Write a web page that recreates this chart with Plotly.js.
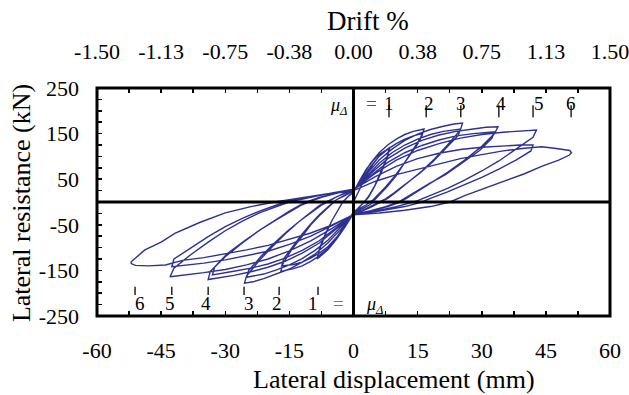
<!DOCTYPE html>
<html><head><meta charset="utf-8">
<script src="https://cdn.plot.ly/plotly-3.0.1.min.js"></script>
<style>html,body{margin:0;padding:0;background:#fff}#chart{width:629px;height:395px}</style>
</head><body><div id="chart"></div>
<script>
// Hysteresis data (displacement mm, force kN), one pair per ductility level
const dispMu1 = [0,1.5,3,4.5,6,7.5,8.5,8,6.5,5,3.5,2.5,1,0,-1.5,-3,-4.5,-6,-7.5,-8.5,-8,-6.5,-5,-3.5,-2.5,-1,0,
  1.5,3,4.5,6,7.5,8.3,7.8,6.3,5,3.5,2.5,1,0,-1.5,-3,-4.5,-6,-7.5,-8.4,-7.9,-6.5,-5,-3.5,-2.5,-1,0];
const forceMu1 = [0,30,58,82,100,113,120,100,65,35,10,0,-15,-22,-45,-68,-88,-105,-118,-125,-105,-70,-40,-15,0,15,22,
  48,72,90,104,113,116,97,63,36,12,0,-14,-24,-46,-67,-86,-102,-114,-120,-100,-68,-40,-15,0,14,22];

const dispMu2 = [0,2,4,6,8,10,12,14,16.5,16,14,12,10,8,6,5,4,2,0,-2,-4,-6,-8,-10,-12,-14,-17,-16.5,-14.5,-12,-10,-8,-6,-5,-4,-2,0,
  2,4,6,8,10,12,14,16,15.5,13.5,11.5,9.5,7.5,5.5,4.5,3,1.5,0,-2,-4,-6,-8,-10,-12,-14,-16.8,-16.3,-14.3,-12,-10,-8,-6,-5,-4,-2,0];
const forceMu2 = [22,55,85,108,125,138,148,155,160,145,115,85,58,35,15,3,-5,-15,-25,-55,-82,-103,-118,-130,-140,-146,-152,-135,-105,-75,-50,-30,-12,-3,5,15,25,
  50,78,100,116,128,138,145,150,134,106,80,55,33,14,4,-6,-14,-24,-52,-78,-98,-112,-123,-132,-137,-140,-124,-98,-70,-48,-28,-11,-2,5,14,24];

const dispMu3 = [0,3,6,9,12,15,18,21,23.5,25.5,25,22,19,16,13,10,8,6.5,4,2,0,-3,-6,-9,-12,-15,-18,-21,-23.5,-25.5,-25,-22,-19,-16,-13,-10,-8,-6.5,-4,-2,0,
  3,6,9,12,15,18,21,23,25,24.5,21.5,18.5,15.5,12.5,9.5,7.5,6,4,2,0,-3,-6,-9,-12,-15,-18,-21,-23,-25,-24.5,-21.5,-18.5,-15.5,-12.5,-9.5,-7.5,-6,-4,-2,0];
const forceMu3 = [25,60,92,116,135,149,159,166,171,173,158,125,95,68,44,22,8,0,-12,-20,-27,-60,-90,-114,-132,-147,-158,-168,-175,-178,-162,-128,-98,-70,-45,-22,-8,0,12,20,26,
  55,85,108,125,138,148,155,158,160,146,116,88,63,41,20,7,0,-11,-19,-26,-56,-84,-106,-124,-138,-149,-158,-162,-165,-150,-118,-90,-64,-41,-20,-7,0,11,19,26];

const dispMu4 = [0,4,8,12,16,20,24,28,31,33.8,33,30,26,22,18,15,12.5,11,8,4,0,-4,-8,-12,-16,-20,-24,-28,-31,-34,-33.5,-30,-26,-22,-18,-15,-12.5,-11,-8,-4,0,
  4,8,12,16,20,24,28,31,33,32.4,29.5,25.5,21.5,17.5,14.5,12,10.5,7.5,4,0,-4,-8,-12,-16,-20,-24,-28,-31,-33,-32.5,-29.5,-25.5,-21.5,-17.5,-14.5,-12,-10.5,-7.5,-4,0];
const forceMu4 = [26,62,95,118,135,147,155,160,164,165,150,122,92,65,42,24,10,0,-10,-20,-28,-60,-90,-112,-130,-143,-153,-161,-166,-170,-152,-120,-90,-62,-38,-20,-7,0,10,20,28,
  58,87,108,124,136,145,150,153,154,140,113,86,60,39,22,9,0,-10,-19,-27,-57,-85,-106,-123,-136,-145,-152,-157,-160,-143,-113,-85,-59,-36,-19,-6,0,10,19,28];

const dispMu5 = [0,5,10,15,20,25,30,35,39,42.8,42,38,34,30,26,22,18,15,14,10,5,0,-5,-10,-15,-20,-25,-30,-35,-39,-42.9,-42,-38,-34,-30,-26,-22,-18,-15,-10,-5,0,
  5,10,15,20,25,30,35,39,42,41.5,38,34,30,26,22,18,16,12,6,0,-5,-10,-15,-20,-25,-30,-35,-39,-42.5,-42,-38,-34,-30,-26,-22,-18,-16,-12,-6,0];
const forceMu5 = [28,62,92,113,128,140,148,153,156,158,142,115,90,68,48,30,14,3,0,-10,-20,-28,-58,-85,-107,-125,-138,-148,-155,-160,-164,-145,-115,-88,-63,-42,-24,-10,0,10,20,28,
  55,78,95,107,115,120,123,125,125,112,92,72,54,38,22,8,0,-10,-20,-27,-52,-75,-93,-108,-118,-127,-134,-139,-142,-125,-100,-76,-54,-36,-20,-6,0,8,18,25];

const dispMu6 = [0,5,10,15,20,25,30,35,40,44,47,50.6,51,50.5,48,44,40,35,30,26,22.6,18,12,6,0,-5,-10,-15,-20,-25,-30,-35,-40,-44,-48,-51,-52,-52,-48.8,-45,-41.8,-36,-30,-24,-18.4,-12,-6,0];
const forceMu6 = [25,45,60,72,84,95,104,112,118,121,118,113,108,103,92,78,62,45,28,14,0,-10,-18,-24,-28,-50,-68,-82,-95,-105,-114,-122,-128,-138,-140,-139,-135,-131,-105,-88,-69,-45,-24,-10,0,10,18,24];

// Ductility levels and their displacements
const muLevels = ['1','2','3','4','5','6'];
const muDispPos = [8.3, 17, 25.1, 34, 42, 50.9];
const muDispNeg = [-8.3, -17.4, -25.6, -34, -42.5, -51.1];

// Axis ticks
const dispTicks = [-60,-45,-30,-15,0,15,30,45,60];
const driftTicks = ['-1.50','-1.13','-0.75','-0.38','0.00','0.38','0.75','1.13','1.50'];
const forceTicks = [-250,-150,-50,50,150,250];

const disp = [].concat(dispMu1, dispMu2, dispMu3, dispMu4, dispMu5, dispMu6);
const force = [].concat(forceMu1, forceMu2, forceMu3, forceMu4, forceMu5, forceMu6);

const minorX = []; for (let v = -60; v <= 60; v += 7.5) minorX.push(v);
const minorXText = minorX.map(v => dispTicks.includes(v) ? String(v) : ' ');
const minorY = []; for (let v = -250; v <= 250; v += 25) minorY.push(v);
const minorYText = minorY.map(v => forceTicks.includes(v) ? String(v) : ' ');
const topVals = minorX.map(v => v / 40);
const topText = minorX.map(v => { const i = dispTicks.indexOf(v); return i >= 0 ? driftTicks[i] : ' '; });

const font = '"Liberation Serif", "Times New Roman", serif';
const traces = [
  {x: disp, y: force, type: 'scatter', mode: 'lines', line: {color: '#2E3192', width: 1.4}, hoverinfo: 'skip'},
  {x: [0], y: [0], xaxis: 'x2', yaxis: 'y', mode: 'markers', marker: {opacity: 0}, hoverinfo: 'skip'}
];

const shapes = [
  {type: 'line', xref: 'x', yref: 'y', x0: 0, x1: 0, y0: -250, y1: 250, line: {color: '#000', width: 3}},
  {type: 'line', xref: 'x', yref: 'y', x0: -60, x1: 60, y0: 0, y1: 0, line: {color: '#000', width: 3}},
  {type: 'rect', xref: 'paper', yref: 'paper', x0: 0, x1: 1, y0: 0, y1: 1, line: {color: '#000', width: 3}}
];
const annotations = [];
const posOff = [0, 3, 0, 2, 6, 0];
const negOff = [5, 2, -5, 2, 2, -5];
muLevels.forEach((m, i) => {
  shapes.push({type: 'line', xref: 'x', yref: 'y', x0: muDispPos[i], x1: muDispPos[i], y0: 186, y1: 212, line: {color: '#000', width: 1.3}});
  shapes.push({type: 'line', xref: 'x', yref: 'y', x0: muDispNeg[i], x1: muDispNeg[i], y0: -186, y1: -204, line: {color: '#000', width: 1.3}});
  annotations.push({x: muDispPos[i], y: 216, xref: 'x', yref: 'y', text: m, showarrow: false, xshift: posOff[i], font: {family: font, size: 19, color: '#000'}});
  annotations.push({x: muDispNeg[i], y: -222, xref: 'x', yref: 'y', text: m, showarrow: false, xshift: -negOff[i], font: {family: font, size: 19, color: '#000'}});
});
annotations.push({x: -3.4, y: 209, xref: 'x', yref: 'y', text: '<i>μ<sub>Δ</sub></i>', showarrow: false, font: {family: font, size: 18, color: '#000'}});
annotations.push({x: 4.3, y: 216, xref: 'x', yref: 'y', text: '=', showarrow: false, font: {family: font, size: 19, color: '#555'}});
annotations.push({x: 4.9, y: -227, xref: 'x', yref: 'y', text: '<i>μ<sub>Δ</sub></i>', showarrow: false, font: {family: font, size: 18, color: '#000'}});
annotations.push({x: -3.6, y: -222, xref: 'x', yref: 'y', text: '=', showarrow: false, font: {family: font, size: 19, color: '#777'}});
// Axis titles
annotations.push({x: 0.579, y: -0.28, xref: 'paper', yref: 'paper', text: 'Lateral displacement (mm)', showarrow: false, xanchor: 'center', yanchor: 'middle', font: {family: font, size: 26, color: '#000'}});
annotations.push({x: 0.528, y: 1.292, xref: 'paper', yref: 'paper', text: 'Drift %', showarrow: false, xanchor: 'center', yanchor: 'middle', font: {family: font, size: 27, color: '#000'}});
annotations.push({x: -0.148, y: 0.4956, xref: 'paper', yref: 'paper', text: 'Lateral resistance (kN)', textangle: -90, showarrow: false, xanchor: 'center', yanchor: 'middle', font: {family: font, size: 26, color: '#000'}});

const layout = {
  width: 629, height: 395,
  margin: {l: 97, r: 19, t: 88, b: 79},
  paper_bgcolor: '#fff', plot_bgcolor: '#fff',
  showlegend: false,
  font: {family: font, size: 22, color: '#000'},
  xaxis: {range: [-60, 60], tickmode: 'array', tickvals: minorX, ticktext: minorXText, ticks: 'inside', ticklen: 5, tickwidth: 1.5, tickcolor: '#000',
    showgrid: false, zeroline: false, showline: false, ticklabelstandoff: 19, ticklabeloverflow: 'allow', tickfont: {family: font, size: 22}},
  xaxis2: {range: [-1.5, 1.5], overlaying: 'x', side: 'top', tickmode: 'array', tickvals: topVals, ticktext: topText, ticks: 'inside', ticklen: 5, tickwidth: 1.5, tickcolor: '#000',
    showgrid: false, zeroline: false, showline: false, ticklabelstandoff: 24, ticklabeloverflow: 'allow', tickfont: {family: font, size: 22}},
  yaxis: {range: [-250, 250], tickmode: 'array', tickvals: minorY, ticktext: minorYText, ticks: 'inside', ticklen: 5, tickwidth: 1.5, tickcolor: '#000',
    showgrid: false, zeroline: false, showline: false, ticklabelstandoff: 17, ticklabeloverflow: 'allow', tickfont: {family: font, size: 22}},
  shapes: shapes,
  annotations: annotations
};
Plotly.newPlot('chart', traces, layout, {displayModeBar: false, staticPlot: true});
</script></body></html>
